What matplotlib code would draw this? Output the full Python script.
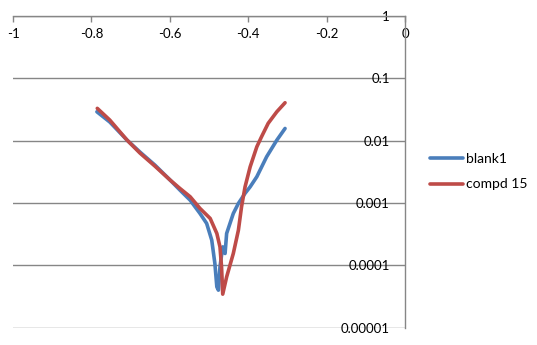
import matplotlib
matplotlib.use("Agg")
import matplotlib.pyplot as plt
from matplotlib.ticker import FixedLocator, NullLocator

plt.rcParams['font.family'] = ['Lato', 'DejaVu Sans']

# potential (V) and current values
blank_x = [-0.786, -0.753, -0.709, -0.676, -0.638, -0.599, -0.574, -0.548, -0.523,
           -0.506, -0.493, -0.485, -0.480, -0.476, -0.472, -0.465, -0.459, -0.455,
           -0.438, -0.425, -0.408, -0.395, -0.378, -0.353, -0.327, -0.306]
blank_y = [0.0291, 0.0199, 0.0102, 0.00656, 0.00406, 0.00233, 0.00161, 0.00111, 0.00068,
           0.000471, 0.000254, 0.000107, 0.0000452, 0.0000400, 0.0000946, 0.000198, 0.000155, 0.000325,
           0.00068, 0.000986, 0.00143, 0.00182, 0.00264, 0.00552, 0.0102, 0.0157]

compd_x = [-0.785, -0.753, -0.709, -0.676, -0.638, -0.599, -0.574, -0.548, -0.523,
           -0.497, -0.480, -0.472, -0.468, -0.465, -0.455, -0.438, -0.425, -0.417,
           -0.408, -0.395, -0.378, -0.366, -0.349, -0.327, -0.306]
compd_y = [0.0330, 0.0214, 0.0102, 0.00632, 0.00391, 0.00233, 0.00171, 0.00126, 0.000819,
           0.000566, 0.000325, 0.000198, 0.0000946, 0.0000345, 0.0000653, 0.000155, 0.000367, 0.000869,
           0.00182, 0.00381, 0.00798, 0.01156, 0.0190, 0.0291, 0.0406]

x_ticks = [-1, -0.8, -0.6, -0.4, -0.2, 0]
x_labels = ['-1', '-0.8', '-0.6', '-0.4', '-0.2', '0']
y_ticks = [0.00001, 0.0001, 0.001, 0.01, 0.1, 1]
y_labels = ['0.00001', '0.0001', '0.001', '0.01', '0.1', '1']

grey = '#868686'

fig = plt.figure(figsize=(5.37, 3.45), dpi=100)
ax = fig.add_axes([13 / 537, 1 - 327.7 / 345, 392 / 537, (327.7 - 16) / 345])

ax.plot(blank_x, blank_y, color='#4A7EBB', lw=2.6, label='blank1', solid_capstyle='round')
ax.plot(compd_x, compd_y, color='#BE4B48', lw=2.6, label='compd 15', solid_capstyle='round')

ax.set_yscale('log')
ax.set_xlim(-1, 0)
ax.set_ylim(0.00001, 1)

ax.xaxis.set_major_locator(FixedLocator(x_ticks))
ax.set_xticklabels(x_labels)
ax.yaxis.set_major_locator(FixedLocator(y_ticks))
ax.yaxis.set_minor_locator(NullLocator())
ax.set_yticklabels(y_labels)

ax.xaxis.tick_top()
ax.tick_params(axis='x', direction='in', length=4, width=1, color=grey,
               pad=-17, labelsize=9.5, labelcolor='black')
ax.yaxis.tick_right()
ax.tick_params(axis='y', length=0, pad=-11, labelsize=9.5, labelcolor='black')
for lab in ax.get_yticklabels():
    lab.set_ha('right')

ax.grid(True, axis='y', color=grey, lw=1)
ax.set_axisbelow(True)

for side in ['left', 'bottom']:
    ax.spines[side].set_visible(False)
for side in ['top', 'right']:
    ax.spines[side].set_color(grey)
    ax.spines[side].set_linewidth(1)

fig.legend(loc='center left', bbox_to_anchor=(430 / 537, 1 - 171.5 / 345), frameon=False,
           fontsize=10, handlelength=2.4, handletextpad=0.2, labelspacing=1.0,
           borderpad=0, borderaxespad=0)

fig.savefig('out.png', dpi=100)
